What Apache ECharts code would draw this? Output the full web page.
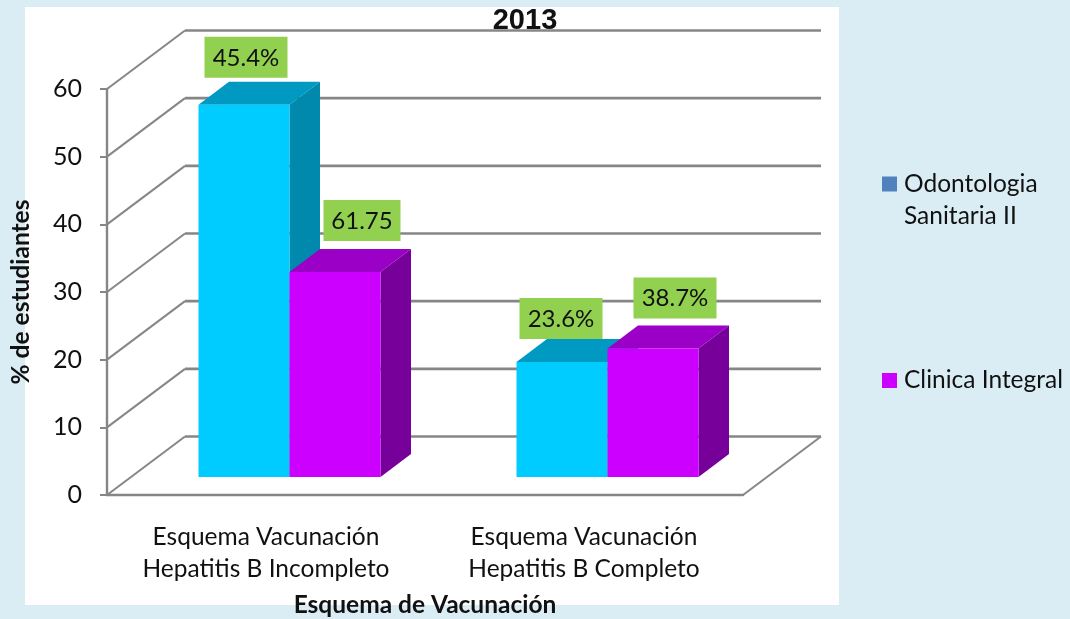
<!DOCTYPE html>
<html><head><meta charset="utf-8">
<style>html,body{margin:0;padding:0;background:#DBEDF4}#c{width:1070px;height:619px}</style>
<script src="https://cdn.jsdelivr.net/npm/echarts@6/dist/echarts.min.js"></script>
</head><body><div id="c"></div>
<script>
const categories = ['Esquema Vacunación\nHepatitis B Incompleto', 'Esquema Vacunación\nHepatitis B Completo'];
const seriesNames = ['Odontologia Sanitaria II', 'Clinica Integral'];
const odontologia = [55, 17];
const clinica = [30.3, 19];
const odontologiaLabels = ['45.4%', '23.6%'];
const clinicaLabels = ['61.75', '38.7%'];
const yTicks = [0, 10, 20, 30, 40, 50, 60];

const FONT = 'Lato';
const LINE = '#868686';
// 3D projection constants (pixels)
const WALL = [78, -58.5];      // depth of the floor
const BAR_BACK = [23.5, -18];  // front face of bars sits this far into the floor
const BAR_DEPTH = [30.5, -23]; // depth of a bar
const BAR_W = 91;
const cyan = {front: '#00CCFF', top: '#0099C2', side: '#0088AD'};
const magenta = {front: '#CC00FF', top: '#9A00C6', side: '#77009B'};
// manual label placement relative to the bar's back top centre, and box width
const shiftsA = [[-28.5, -45, 83], [-31.5, -41, 83]];
const shiftsB = [[-3.5, -49, 77], [-8.5, -48, 83]];

function poly(points, fill) {
  return {type: 'polygon', shape: {points}, style: {fill}};
}
function barRenderer(slot, pal, labels, shifts) {
  return function (params, api) {
    const i = api.value(0), v = api.value(1);
    const c0 = api.coord([i, 0]), c1 = api.coord([i, v]);
    const x0 = c0[0] + slot * BAR_W + BAR_BACK[0], x1 = x0 + BAR_W;
    const yB = c0[1] + BAR_BACK[1], yT = c1[1] + BAR_BACK[1];
    const dx = BAR_DEPTH[0], dy = BAR_DEPTH[1];
    const lx = (x0 + x1) / 2 + dx + shifts[i][0], ly = yT + dy + shifts[i][1], lw = shifts[i][2];
    return {type: 'group', children: [
      poly([[x0, yT], [x1, yT], [x1 + dx, yT + dy], [x0 + dx, yT + dy]], pal.top),
      poly([[x1, yB], [x1 + dx, yB + dy], [x1 + dx, yT + dy], [x1, yT]], pal.side),
      {type: 'rect', shape: {x: x0, y: yT, width: BAR_W, height: yB - yT}, style: {fill: pal.front}},
      {type: 'rect', z2: 20, shape: {x: lx - lw / 2, y: ly, width: lw, height: 41}, style: {fill: '#92D050'}},
      {type: 'text', z2: 21, style: {x: lx, y: ly + 21, text: labels[i], fill: '#111', align: 'center', verticalAlign: 'middle', font: '24px ' + FONT}}
    ]};
  };
}
function wallRenderer(params, api) {
  const v = api.value(0);
  const band = api.size([1, 0])[0];
  const l = api.coord([0, v]), r = api.coord([1, v]);
  const fx = l[0] - band / 2, fr = r[0] + band / 2, y = l[1];
  const style = {stroke: LINE, lineWidth: 2, fill: null};
  const children = [
    {type: 'polyline', shape: {points: [[fx, y], [fx + WALL[0], y + WALL[1]]]}, style},
    {type: 'line', shape: {x1: fx + WALL[0], y1: y + WALL[1], x2: fr + WALL[0], y2: y + WALL[1]}, style: {stroke: LINE, lineWidth: 2.6}}
  ];
  if (v === 0) children.push({type: 'line', shape: {x1: fr, y1: y, x2: fr + WALL[0], y2: y + WALL[1]}, style});
  return {type: 'group', children};
}

const chart = echarts.init(document.getElementById('c'), null, {renderer: 'canvas'});
chart.setOption({
  animation: false,
  backgroundColor: '#DBEDF4',
  graphic: [{type: 'rect', z: -10, silent: true, shape: {x: 25, y: 7, width: 814, height: 598}, style: {fill: '#fff'}}],
  title: {text: '2013', left: 520, textAlign: 'center', top: 1,
    textStyle: {fontFamily: 'Liberation Sans', fontWeight: 'bold', fontSize: 29, color: '#111'}},
  grid: {left: 107, top: 89, width: 636, height: 406, outerBoundsMode: 'none', containLabel: false},
  xAxis: {type: 'category', data: categories,
    name: 'Esquema de Vacunación', nameLocation: 'middle', nameGap: 98,
    nameTextStyle: {fontFamily: FONT, fontWeight: 'bold', fontSize: 24.5, color: '#111'},
    axisLine: {lineStyle: {color: LINE, width: 2.4}}, axisTick: {show: false},
    axisLabel: {interval: 0, hideOverlap: false, fontFamily: FONT, fontSize: 24.5, color: '#111', lineHeight: 32, margin: 26}},
  yAxis: {type: 'value', min: 0, max: 60, interval: 10,
    name: '% de estudiantes', nameLocation: 'middle', nameGap: 73, nameRotate: 90,
    nameTextStyle: {fontFamily: FONT, fontWeight: 'bold', fontSize: 24.5, color: '#111'},
    axisLine: {show: true, lineStyle: {color: LINE, width: 2.4}},
    axisTick: {show: true, length: 7, lineStyle: {color: LINE, width: 2}},
    splitLine: {show: false},
    axisLabel: {fontFamily: FONT, fontSize: 25, color: '#111', margin: 25, padding: [10, 0, 0, 0]}},
  legend: [
    {data: [seriesNames[0]], left: 877, top: 131, icon: 'rect', itemWidth: 15, itemHeight: 15, itemGap: 0, selectedMode: false,
      formatter: () => '\nOdontologia\nSanitaria II',
      textStyle: {fontFamily: FONT, fontSize: 24.5, color: '#111', lineHeight: 32, padding: [0, 0, 0, 2]}},
    {data: [seriesNames[1]], left: 877, top: 363, icon: 'rect', itemWidth: 15, itemHeight: 15, selectedMode: false,
      textStyle: {fontFamily: FONT, fontSize: 24.5, color: '#111', padding: [0, 0, 0, 2]}}
  ],
  series: [
    {type: 'custom', name: 'wall', z: 1, silent: true, renderItem: wallRenderer, encode: {y: 0},
      data: yTicks.map(v => [v])},
    {type: 'custom', name: seriesNames[0], z: 3, silent: true, itemStyle: {color: '#4F81BD'},
      renderItem: barRenderer(-1, cyan, odontologiaLabels, shiftsA), encode: {x: 0, y: 1},
      data: odontologia.map((v, i) => [i, v])},
    {type: 'custom', name: seriesNames[1], z: 4, silent: true, itemStyle: {color: '#CC00FF'},
      renderItem: barRenderer(0, magenta, clinicaLabels, shiftsB), encode: {x: 0, y: 1},
      data: clinica.map((v, i) => [i, v])}
  ]
});
</script></body></html>
